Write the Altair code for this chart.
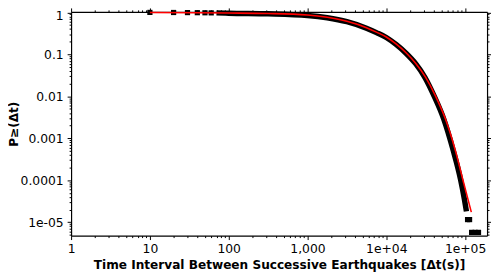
import altair as alt
import pandas as pd

band_t = [70, 100, 316, 1000, 1780, 3160, 5600, 7500, 10000, 13300, 17800,
          23700, 31000, 40500, 53500, 70500, 88000, 98000, 104000]
band_p = [0.975, 0.955, 0.925, 0.845, 0.745, 0.60, 0.42, 0.33, 0.252, 0.172, 0.106,
          0.059, 0.028, 0.0101, 0.0029, 5.2e-4, 1.0e-4, 3.5e-5, 1.8e-5]

# Isolated square markers (short intervals and extreme tail)
sq_t = [10, 20, 30, 40, 50, 60, 107500, 114000, 121000, 134000, 148000]
sq_p = [1.0, 0.995, 0.99, 0.985, 0.98, 0.975, 1.15e-5, 1.15e-5, 5.7e-6, 5.7e-6, 5.7e-6]

# Red fitted curve
fit_t = [10, 100, 316, 1000, 1780, 3160, 5600, 7500, 10000, 13300, 17800,
         23700, 31600, 42200, 56200, 75000, 94000, 120000]
fit_p = [0.99, 0.965, 0.94, 0.865, 0.763, 0.615, 0.433, 0.339, 0.259, 0.177, 0.109,
         0.0603, 0.0282, 0.0101, 0.0029, 5.2e-4, 1.0e-4, 1.73e-5]

X_DOMAIN = [1, 1.9e5]
Y_DOMAIN = [4.77e-6, 1.03]

x_ticks = [m * 10 ** k for k in range(0, 6) for m in range(1, 10) if m * 10 ** k <= X_DOMAIN[1]]
y_ticks = [m * 10.0 ** k for k in range(-6, 1) for m in range(1, 10)
           if Y_DOMAIN[0] <= m * 10.0 ** k <= Y_DOMAIN[1]]

major = "abs(log(datum.value)/LN10 - round(log(datum.value)/LN10)) < 1e-6"
tick_size = {"condition": {"test": major, "value": 4}, "value": 2}
kexpr = "round(log(datum.value)/LN10)"
x_label = f"({major}) ? ['1','10','100','1,000','1e+04','1e+05'][{kexpr}] : ''"
y_label = f"({major}) ? ['1e-05','0.0001','0.001','0.01','0.1','1'][{kexpr}+5] : ''"

FONT = "DejaVu Sans"
common = dict(grid=False, domainColor="black", domainWidth=1.2, tickColor="black",
              tickWidth=1, tickSize=tick_size, labelOverlap=False,
              labelColor="black", labelFont=FONT, labelFontSize=12.5,
              titleColor="black", titleFont=FONT, titleFontWeight="bold", titleFontSize=12.3)

x_axis = alt.Axis(values=x_ticks, labelExpr=x_label, labelPadding=3, labelFlush=False,
                  title="Time Interval Between Successive Earthquakes [Δt(s)]",
                  titleY=29, titleBaseline="middle", **common)
y_axis = alt.Axis(values=y_ticks, labelExpr=y_label, labelPadding=4,
                  labelFlush=2, labelFlushOffset=3,
                  title="P≥(Δt)", titleX=-58, titleY=113.5, titleAngle=-90,
                  titleAlign="center", titleBaseline="middle", **common)
x_top = alt.Axis(values=x_ticks, labels=False, title=None, orient="top", **common)
y_right = alt.Axis(values=y_ticks, labels=False, title=None, orient="right", **common)

xs = alt.Scale(type="log", domain=X_DOMAIN, nice=False)
ys = alt.Scale(type="log", domain=Y_DOMAIN, nice=False)

band_df = pd.DataFrame({"t": band_t, "p": band_p})
sq_df = pd.DataFrame({"t": sq_t, "p": sq_p})
fit_df = pd.DataFrame({"t": fit_t, "p": fit_p})

band = alt.Chart(band_df).mark_line(color="black", strokeWidth=5.5, interpolate="monotone").encode(
    x=alt.X("t:Q", scale=xs, axis=x_axis),
    y=alt.Y("p:Q", scale=ys, axis=y_axis),
)
squares = alt.Chart(sq_df).mark_square(color="black", size=28, opacity=1).encode(
    x=alt.X("t:Q", scale=xs),
    y=alt.Y("p:Q", scale=ys),
)
inner = alt.layer(band, squares)

fit = alt.Chart(fit_df).mark_line(color="#ff0000", strokeWidth=1.6, interpolate="monotone").encode(
    x=alt.X("t:Q", scale=xs, axis=x_top),
    y=alt.Y("p:Q", scale=ys, axis=y_right),
)

chart = alt.layer(inner, fit).resolve_scale(x="independent", y="independent").properties(
    width=422, height=227,
    autosize=alt.AutoSizeParams(type="none"),
    padding={"left": 64, "top": 2, "right": 4, "bottom": 36},
    background="white",
).configure_view(stroke=None)

chart.save("out.html", embed_options={"renderer": "svg", "actions": False})
